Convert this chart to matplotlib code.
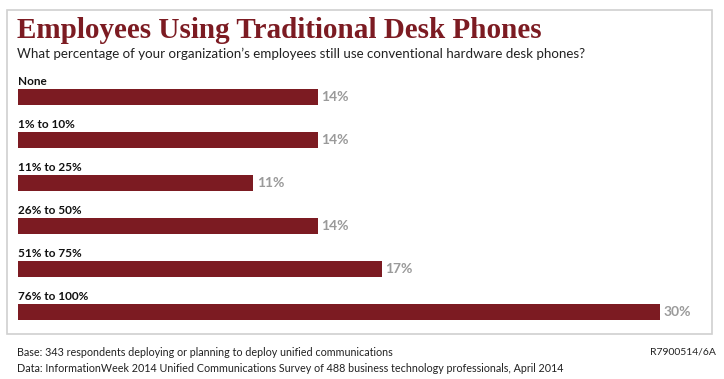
import matplotlib.pyplot as plt
from matplotlib.patches import Rectangle

categories = ["None", "1% to 10%", "11% to 25%", "26% to 50%", "51% to 75%", "76% to 100%"]
values = [14, 14, 11, 14, 17, 30]

W, H = 724, 379
dpi = 100
fig = plt.figure(figsize=(W / dpi, H / dpi), dpi=dpi)
fig.patch.set_facecolor("white")

red = "#7c1b22"
sans = ["Lato", "DejaVu Sans"]

# frame
fig.patches.append(Rectangle((7 / W, 1 - 334 / H), (712 - 7) / W, (334 - 10) / H,
                             transform=fig.transFigure, fill=False,
                             edgecolor="#d0d0d0", linewidth=1.2))

fig.text(17 / W, 1 - 30 / H, "Employees Using Traditional Desk Phones",
         family="Liberation Serif", weight="bold", fontsize=21, color=red, va="center")
fig.text(17 / W, 1 - 54 / H,
         "What percentage of your organization\u2019s employees still use conventional hardware desk phones?",
         family=sans, fontsize=9.6, color="#222222", va="center")

# bars area: x 0..30 -> px 18..660, rows centred at 97 + 43*i
top_px = 97 - 0.7 * 43
bot_px = 312 + 0.7 * 43
ax = fig.add_axes([18 / W, 1 - bot_px / H, 642 / W, (bot_px - top_px) / H])
ax.set_xlim(0, 30)
ax.set_ylim(5.7, -0.7)
ax.axis("off")

ypos = list(range(len(categories)))
ax.barh(ypos, values, height=0.36, color=red)
for y, cat, v in zip(ypos, categories, values):
    ax.text(0, y - 0.24, cat, family=sans, weight="bold", fontsize=8.5,
            color="#111111", va="bottom", ha="left")
    ax.text(v + 0.15, y, "%d%%" % v, family=sans, weight="bold", fontsize=10,
            color="#9a9a9a", va="center", ha="left")

fig.text(17 / W, 1 - 352 / H,
         "Base: 343 respondents deploying or planning to deploy unified communications",
         family=sans, fontsize=7.75, color="#222222", va="center")
fig.text(17 / W, 1 - 369 / H,
         "Data: InformationWeek 2014 Unified Communications Survey of 488 business technology professionals, April 2014",
         family=sans, fontsize=7.75, color="#222222", va="center")
fig.text(716 / W, 1 - 352 / H, "R7900514/6A", family=sans, fontsize=7.5,
         color="#222222", va="center", ha="right")

fig.savefig("out.png", dpi=dpi)
